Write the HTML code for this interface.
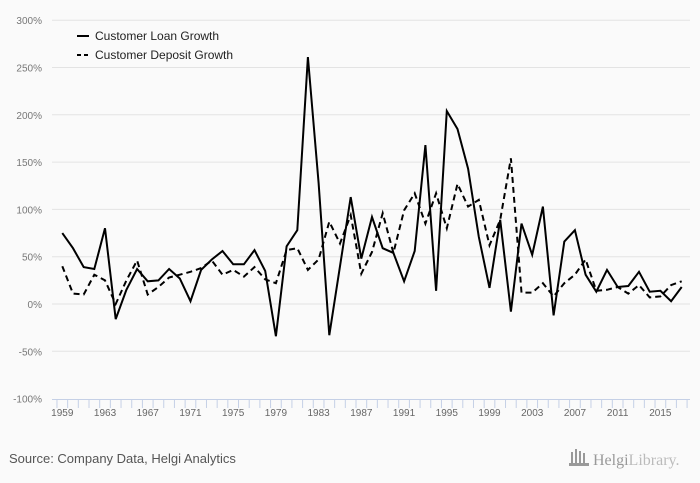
<!DOCTYPE html>
<html><head><meta charset="utf-8"><style>
body{margin:0;background:#fafafa;}
svg{display:block;font-family:"Liberation Sans",sans-serif;}
</style></head><body>
<svg id="chart" width="700" height="483">
<rect width="700" height="483" fill="#fafafa"/>
<g id="grid"></g><g id="axes"></g><g id="series"></g>
<g>
<line x1="77" y1="36" x2="89" y2="36" stroke="#000" stroke-width="2"/>
<text x="95" y="40" font-size="12" fill="#222">Customer Loan Growth</text>
<line x1="77" y1="55" x2="89" y2="55" stroke="#000" stroke-width="2" stroke-dasharray="4,3"/>
<text x="95" y="59" font-size="12" fill="#222">Customer Deposit Growth</text>
</g>
<text x="9" y="463" font-size="13" fill="#555">Source: Company Data, Helgi Analytics</text>
<g>
<g fill="#999"><rect x="571" y="452" width="2" height="12"/><rect x="575" y="449" width="2" height="15"/><rect x="579" y="451" width="2" height="13"/><rect x="583" y="453" width="2" height="11"/><rect x="569" y="463" width="20" height="3"/></g>
<text x="593" y="465" font-size="16" fill="#999" font-family="Liberation Serif,serif">Helgi<tspan fill="#bbb">Library.</tspan></text>
</g>
</svg>
<script>
const years=[];for(let y=1959;y<=2017;y++)years.push(y);
const loanGrowth=[75,59,39,37,80,-16,15,37,24,25,37,27,3,36,47,56,42,42,57,35,-34,61,78,261,128,-33,40,113,48,92,59,54,24,56,168,14,204,185,143,71,17,89,-8,85,52,103,-12,66,78,31,13,36,18,19,34,13,14,3,18];
const depositGrowth=[40,11,10,31,25,0,25,46,10,18,28,31,34,38,46,31,36,29,39,26,22,57,59,36,47,87,64,94,32,55,96,54,99,117,85,117,80,127,103,110,62,89,154,12,12,22,8,22,31,47,14,15,18,11,20,7,8,20,24];
const yTicks=[-100,-50,0,50,100,150,200,250,300];
const xLabels=[1959,1963,1967,1971,1975,1979,1983,1987,1991,1995,1999,2003,2007,2011,2015];
const NS="http://www.w3.org/2000/svg";
const X=y=>62.3+(y-1959)*10.68;
const Y=v=>304-v*0.946;
function mk(tag,attrs,parent){const e=document.createElementNS(NS,tag);for(const k in attrs)e.setAttribute(k,attrs[k]);parent.appendChild(e);return e;}
const grid=document.getElementById('grid'),axes=document.getElementById('axes'),series=document.getElementById('series');
yTicks.forEach(t=>{
  if(t>-100){const l=mk('line',{x1:52,x2:690,y1:Y(t),y2:Y(t),stroke:'#e3e3e3','stroke-width':1},grid);
  
  }
  const tx=mk('text',{x:42,y:Y(t)+4,'text-anchor':'end','font-size':10,fill:'#777'},axes);tx.textContent=t+'%';
  
  
});
const ax=mk('line',{x1:52,x2:690,y1:399.5,y2:399.5,stroke:'#c5d0e6','stroke-width':1},axes);


for(let y=1959;y<=2018;y++){const xx=X(y)-5.34;const t=mk('line',{x1:xx,x2:xx,y1:399,y2:408,stroke:'#c5d0e6','stroke-width':1},axes);

}
xLabels.forEach(y=>{const tx=mk('text',{x:X(y),y:416,'text-anchor':'middle','font-size':10,fill:'#666'},axes);tx.textContent=y;

});
function line(vals,dash,name){
  const d=vals.map((v,i)=>(i?'L':'M')+X(years[i]).toFixed(1)+' '+Y(v).toFixed(1)).join(' ');
  const p=mk('path',{d:d,fill:'none',stroke:'#000','stroke-width':2,'stroke-linejoin':'miter'},series);
  if(dash)p.setAttribute('stroke-dasharray','6,4');
  
  
}
line(depositGrowth,true,'deposit-growth-line');
line(loanGrowth,false,'loan-growth-line');
</script>
</body></html>
